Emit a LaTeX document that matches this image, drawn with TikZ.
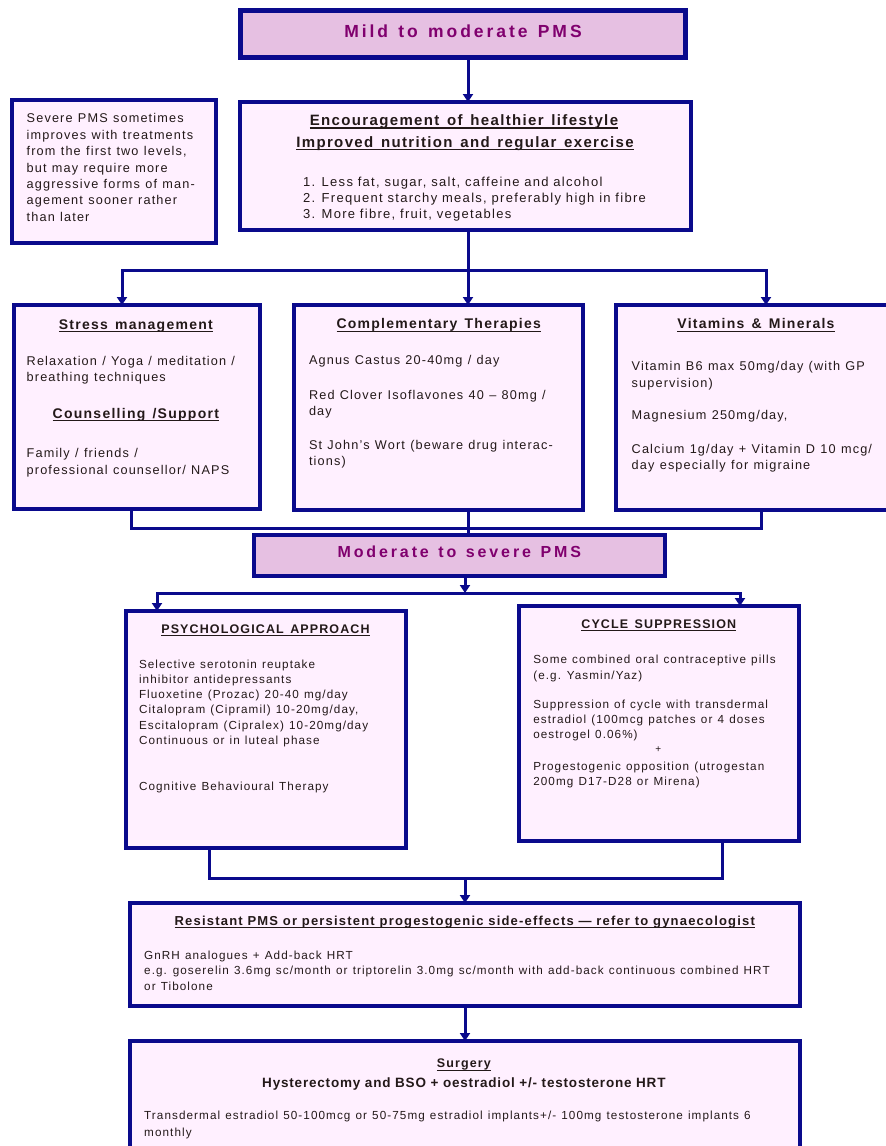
\documentclass[tikz,border=0pt]{standalone}
\usepackage{fontspec}
\setmainfont{Liberation Sans}
\newfontfamily\fbody{Liberation Sans}[LetterSpace=9]
\newfontfamily\flist{Liberation Sans}[LetterSpace=10]
\newfontfamily\flow{Liberation Sans}[LetterSpace=9.2]
\newfontfamily\fhead{Liberation Sans}[LetterSpace=9]
\newfontfamily\flife{Liberation Sans}[LetterSpace=9,WordSpace=1.4]
\newfontfamily\fmild{Liberation Sans}[LetterSpace=17,WordSpace=1.3]
\newfontfamily\fmod{Liberation Sans}[LetterSpace=18,WordSpace=1.3]
\newfontfamily\fres{Liberation Sans}[LetterSpace=9.2]
\newfontfamily\fhys{Liberation Sans}[LetterSpace=6]
\usetikzlibrary{arrows.meta}
\definecolor{navy}{RGB}{10,10,140}
\definecolor{paleC}{RGB}{255,240,255}
\definecolor{hdrC}{RGB}{230,192,226}
\definecolor{purp}{RGB}{128,0,110}
\definecolor{bodyC}{RGB}{35,25,25}
\newcommand\ulnode[1]{\draw[line width=1.1pt, bodyC] ([yshift=-2.3pt]#1.base west) -- ([yshift=-2.3pt]#1.base east);}
\begin{document}
\begin{tikzpicture}[x=1pt,y=-1pt,
 box/.style={draw=navy, fill=paleC, line width=4pt, inner sep=0pt, outer sep=0pt},
 hbox/.style={box, fill=hdrC},
 conn/.style={draw=navy, line width=3pt},
 arr/.style={conn, -{Triangle[width=10pt,length=8pt]}},
 up/.style={inner sep=0pt, outer sep=0pt, text=bodyC, align=left, anchor=base west, font=\fbody\fontsize{12.7}{16.4}\selectfont,
   execute at begin node={\spaceskip=0.42em\relax}},
 lst/.style={up, font=\flist\fontsize{13}{15.9}\selectfont,
   execute at begin node={\spaceskip=0.37em\relax}},
 lo/.style={up, font=\flow\fontsize{11.7}{15.3}\selectfont,
   execute at begin node={\spaceskip=0.44em\relax}},
 hd/.style={inner sep=0pt, outer sep=0pt, text=bodyC, anchor=base},
 hdup/.style={hd, font=\fhead\bfseries\fontsize{14}{16}\selectfont},
 hdlo/.style={hd, font=\fhead\bfseries\fontsize{12.5}{15}\selectfont}
]
\useasboundingbox (0,0) rectangle (886,1146);
\fill[white] (0,0) rectangle (886,1146);

% boxes
\node[hbox, line width=5pt, minimum width=445pt, minimum height=47pt] (mild) at (463,34) {};
\node[box, line width=4.5pt, minimum width=451pt, minimum height=128pt] (life) at (465.5,166) {};
\node[box, minimum width=204pt, minimum height=143pt] (note) at (114,171.5) {};
\node[box, minimum width=246pt, minimum height=204pt] (stress) at (137,407) {};
\node[box, minimum width=289pt, minimum height=204.5pt] (comp) at (438.5,407.25) {};
\node[box, minimum width=284pt, minimum height=204.5pt] (vit) at (758,407.25) {};
\node[hbox, line width=3.5pt, minimum width=411pt, minimum height=41pt] (mod) at (459.5,555.5) {};
\node[box, minimum width=280pt, minimum height=237pt] (psych) at (266,729.5) {};
\node[box, minimum width=280pt, minimum height=235pt] (cyc) at (659,723.5) {};
\node[box, minimum width=670pt, minimum height=103pt] (res) at (465,954.5) {};
\node[box, minimum width=670pt, minimum height=119pt] (surg) at (465,1100.5) {};

% connectors
\coordinate (a0) at (468,0);
\draw[arr] (mild.south -| a0) -- (life.north -| a0);
\coordinate (j1) at (468,270);
\coordinate (js) at (122,270);
\coordinate (jv) at (766,270);
\draw[conn] (life.south -| j1) -- (j1);
\draw[arr] (j1) -| (stress.north -| js);
\draw[arr] (j1) -| (vit.north -| jv);
\draw[arr] (j1) -- (comp.north -| j1);
\coordinate (m1) at (131,528);
\coordinate (m2) at (468,528);
\coordinate (m3) at (761,528);
\draw[conn] (stress.south -| m1) |- (m2) -| (vit.south -| m3);
\draw[conn] (comp.south -| m2) -- (mod.north -| m2);
\coordinate (k1) at (465,593);
\coordinate (kl) at (157,593);
\coordinate (kr) at (740,593);
\draw[arr] (mod.south -| k1) -- (k1);
\draw[arr] (k1) -| (psych.north -| kl);
\draw[arr] (k1) -| (cyc.north -| kr);
\coordinate (p1) at (209,878);
\coordinate (p2) at (465,878);
\coordinate (p3) at (722,878);
\draw[conn] (psych.south -| p1) |- (p2) -| (cyc.south -| p3);
\draw[arr] (p2) -- (res.north -| p2);
\draw[arr] (res.south -| p2) -- (surg.north -| p2);

% texts
\node[hd, text=purp, font=\fmild\bfseries\fontsize{17.5}{20}\selectfont] (tmild) at (463,37.6) {Mild to moderate PMS};
\node[hd, font=\flife\bfseries\fontsize{15}{18}\selectfont] (tenc) at (464,125.7) {Encouragement of healthier lifestyle};
\ulnode{tenc}
\node[hd, font=\flife\bfseries\fontsize{15}{18}\selectfont] (timp) at (465,147.1) {Improved nutrition and regular exercise};
\ulnode{timp}
\node[lst, text width=380pt] (tlist) at (303,186.6) {1. Less fat, sugar, salt, caffeine and alcohol\\2. Frequent starchy meals, preferably high in fibre\\3. More fibre, fruit, vegetables};

\node[up, text width=190pt] (tnote) at (26.7,122.8) {Severe PMS sometimes\\improves with treatments\\from the first two levels,\\but may require more\\aggressive forms of man-\\agement sooner rather\\than later};

\node[hdup] (tstress) at (135.8,329.2) {Stress management};
\ulnode{tstress}
\node[up, text width=232pt] (trelax) at (26.7,365.5) {Relaxation / Yoga / meditation /\\breathing techniques};
\node[hdup] (tcouns) at (135.8,418.5) {Counselling /Support};
\ulnode{tcouns}
\node[up, text width=232pt] (tfam) at (26.7,457.8) {Family / friends /\\professional counsellor/ NAPS};

\node[hdup] (tcomp) at (438.7,328.8) {Complementary Therapies};
\ulnode{tcomp}
\node[up, text width=272pt] (tagn) at (309,364.8) {Agnus Castus 20-40mg / day};
\node[up, text width=272pt] (tred) at (309,399.2) {Red Clover Isoflavones 40 – 80mg /\\day};
\node[up, text width=272pt] (tstj) at (309,449.2) {St John’s Wort (beware drug interac-\\tions)};

\node[hdup] (tvit) at (756,328.8) {Vitamins \& Minerals};
\ulnode{tvit}
\node[up, text width=262pt] (tb6) at (631.7,370.8) {Vitamin B6 max 50mg/day (with GP\\supervision)};
\node[up, text width=262pt] (tmag) at (631.7,419.8) {Magnesium 250mg/day,};
\node[up, text width=262pt] (tcal) at (631.7,453.2) {Calcium 1g/day + Vitamin D 10 mcg/\\day especially for migraine};

\node[hd, text=purp, font=\fmod\bfseries\fontsize{16}{18}\selectfont] (tmod) at (459.3,557.9) {Moderate to severe PMS};

\node[hdlo] (tpsy) at (265.5,633.2) {PSYCHOLOGICAL APPROACH};
\ulnode{tpsy}
\node[lo, text width=265pt] (tssri) at (139,668) {Selective serotonin reuptake\\inhibitor antidepressants\\Fluoxetine (Prozac) 20-40 mg/day\\Citalopram (Cipramil) 10-20mg/day,\\Escitalopram (Cipralex) 10-20mg/day\\Continuous or in luteal phase};
\node[lo, text width=265pt] (tcbt) at (139,790.2) {Cognitive Behavioural Therapy};

\node[hdlo] (tcyc) at (658.8,628.2) {CYCLE SUPPRESSION};
\ulnode{tcyc}
\node[lo, text width=262pt] (tcoc) at (533.3,663.7) {Some combined oral contraceptive pills\\(e.g. Yasmin/Yaz)};
\node[lo, text width=262pt] (tsup) at (533.3,708.2) {Suppression of cycle with transdermal\\estradiol (100mcg patches or 4 doses\\oestrogel 0.06\%)};
\node[hd, font=\flow\fontsize{10}{11}\selectfont, anchor=center] (tplus) at (658.3,750) {+};
\node[lo, text width=262pt] (tprog) at (533.3,770.2) {Progestogenic opposition (utrogestan\\200mg D17-D28 or Mirena)};

\node[hd, font=\fres\bfseries\fontsize{13}{15}\selectfont] (tres) at (464.8,925.5) {Resistant PMS or persistent progestogenic side-effects — refer to gynaecologist};
\ulnode{tres}
\node[lo, text width=660pt] (tgnrh) at (144.2,959.4) {GnRH analogues + Add-back HRT\\e.g. goserelin 3.6mg sc/month or triptorelin 3.0mg sc/month with add-back continuous combined HRT\\or Tibolone};

\node[hdlo] (tsurg) at (463.9,1067.8) {Surgery};
\ulnode{tsurg}
\node[hd, font=\fhys\bfseries\fontsize{13.5}{16}\selectfont] (thys) at (463.9,1087.3) {Hysterectomy and BSO + oestradiol +/- testosterone HRT};
\node[lo, text width=660pt, font=\flow\fontsize{11.7}{16.8}\selectfont] (ttrans) at (144.2,1119.9) {Transdermal estradiol 50-100mcg or 50-75mg estradiol implants+/- 100mg testosterone implants 6\\monthly};
\end{tikzpicture}
\end{document}
